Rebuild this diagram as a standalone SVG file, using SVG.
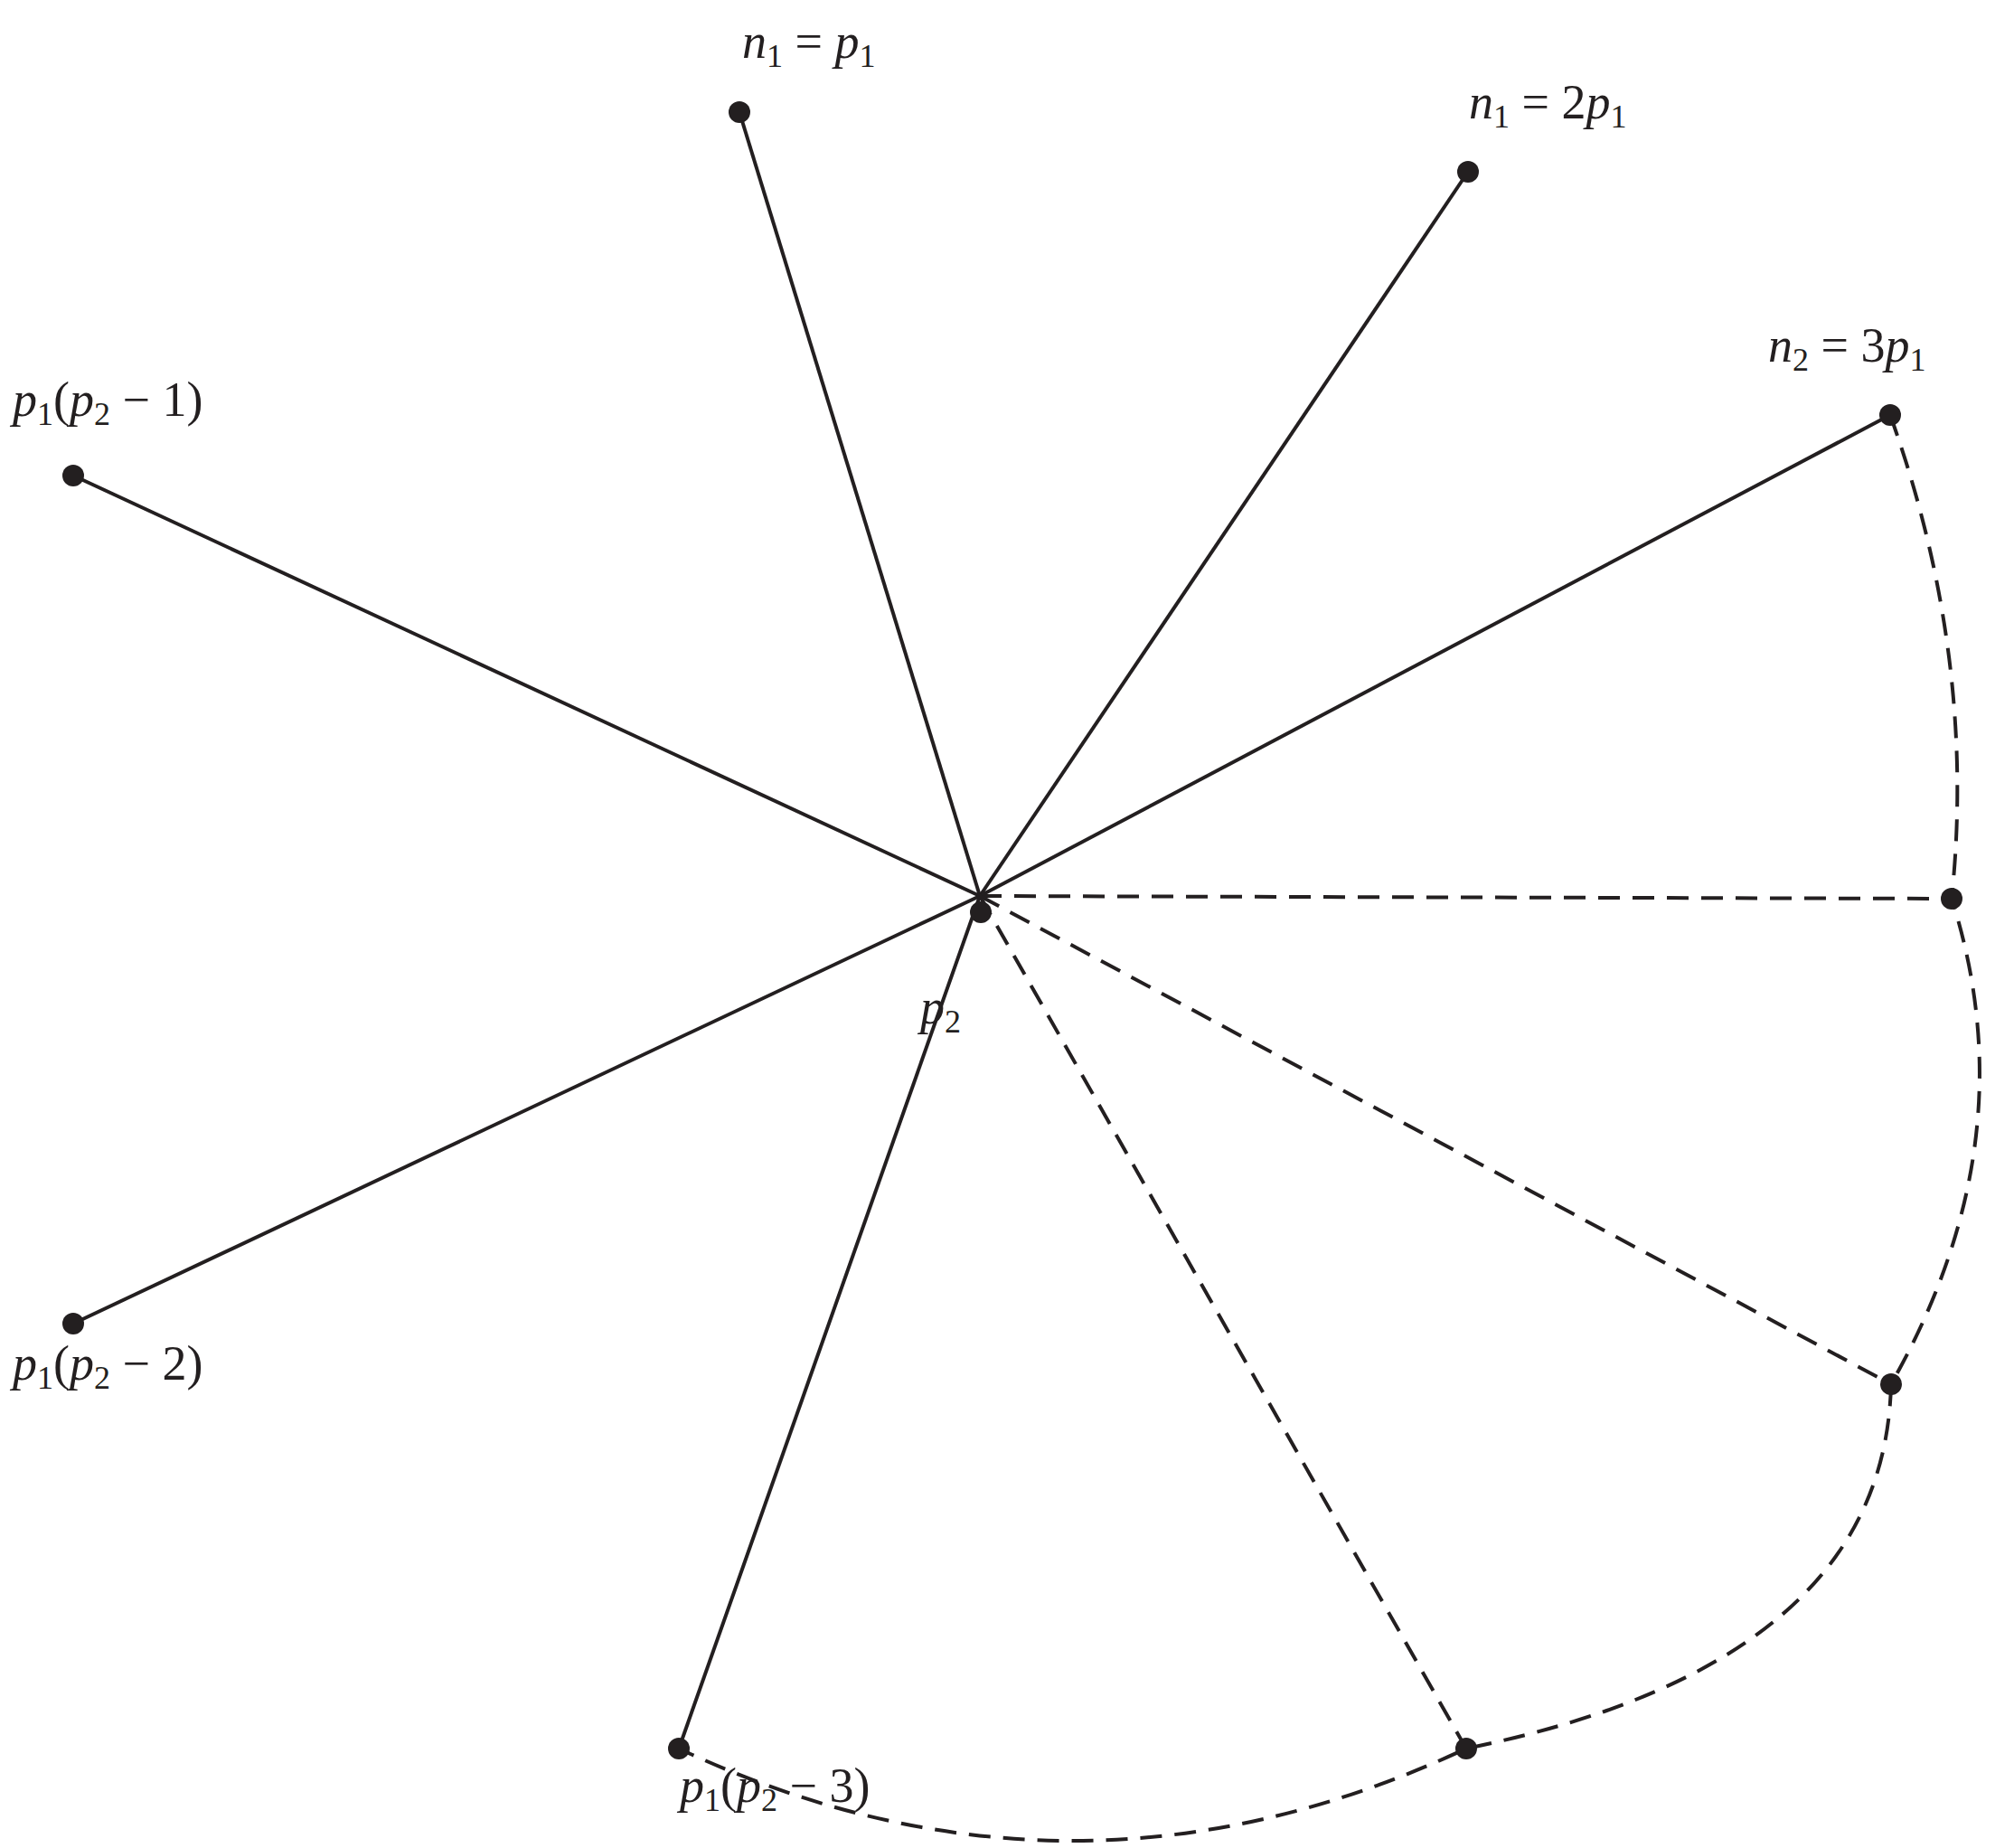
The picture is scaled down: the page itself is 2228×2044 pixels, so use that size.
<svg xmlns="http://www.w3.org/2000/svg" width="2228" height="2044" viewBox="0 0 2228 2044">
<style>
.s{stroke:#231f20;stroke-width:4;fill:none}
.d{stroke:#231f20;stroke-width:4;fill:none;stroke-dasharray:24 14}
.n{fill:#231f20}
text{font-family:"Liberation Serif",serif;font-size:54px;fill:#231f20}
.i{font-style:italic}
.b{font-size:36px}
</style>
<rect width="2228" height="2044" fill="#fff"/>
<g id="connectors">
<line class="s" x1="1084" y1="991" x2="818" y2="124"/>
<line class="s" x1="1084" y1="991" x2="1624" y2="190"/>
<line class="s" x1="1084" y1="991" x2="2091" y2="459"/>
<line class="s" x1="1084" y1="991" x2="81" y2="526"/>
<line class="s" x1="1084" y1="991" x2="81" y2="1464"/>
<line class="s" x1="1084" y1="991" x2="751" y2="1934"/>
<line class="d" x1="1084" y1="991" x2="2159" y2="994"/>
<line class="d" x1="1084" y1="991" x2="2092" y2="1531"/>
<line class="d" x1="1084" y1="991" x2="1622" y2="1934"/>
<path class="d" d="M2091,459 Q2187,726 2159,994 Q2245,1262 2092,1531 Q2085,1840 1622,1934 Q1186,2138 751,1934"/>
</g>
<g id="center"><circle class="n" cx="1085" cy="1009" r="12"/><text x="1018" y="1132" class="i">p<tspan class="b" dy="10" font-style="normal">2</tspan></text></g>
<g id="n1"><circle class="n" cx="818" cy="124" r="12"/><text x="821" y="64"><tspan class="i">n</tspan><tspan class="b" dy="10">1</tspan><tspan dy="-10"> = </tspan><tspan class="i">p</tspan><tspan class="b" dy="10">1</tspan></text></g>
<g id="n2"><circle class="n" cx="1624" cy="190" r="12"/><text x="1625" y="131"><tspan class="i">n</tspan><tspan class="b" dy="10">1</tspan><tspan dy="-10"> = 2</tspan><tspan class="i">p</tspan><tspan class="b" dy="10">1</tspan></text></g>
<g id="n3"><circle class="n" cx="2091" cy="459" r="12"/><text x="1956" y="400"><tspan class="i">n</tspan><tspan class="b" dy="10">2</tspan><tspan dy="-10"> = 3</tspan><tspan class="i">p</tspan><tspan class="b" dy="10">1</tspan></text></g>
<g id="m1"><circle class="n" cx="81" cy="526" r="12"/><text x="14" y="460"><tspan class="i">p</tspan><tspan class="b" dy="10">1</tspan><tspan dy="-10">(</tspan><tspan class="i">p</tspan><tspan class="b" dy="10">2</tspan><tspan dy="-10"> − 1)</tspan></text></g>
<g id="m2"><circle class="n" cx="81" cy="1464" r="12"/><text x="14" y="1526"><tspan class="i">p</tspan><tspan class="b" dy="10">1</tspan><tspan dy="-10">(</tspan><tspan class="i">p</tspan><tspan class="b" dy="10">2</tspan><tspan dy="-10"> − 2)</tspan></text></g>
<g id="m3"><circle class="n" cx="751" cy="1934" r="12"/><text x="752" y="1993"><tspan class="i">p</tspan><tspan class="b" dy="10">1</tspan><tspan dy="-10">(</tspan><tspan class="i">p</tspan><tspan class="b" dy="10">2</tspan><tspan dy="-10"> − 3)</tspan></text></g>
<g id="r1"><circle class="n" cx="2159" cy="994" r="12"/></g>
<g id="r2"><circle class="n" cx="2092" cy="1531" r="12"/></g>
<g id="r3"><circle class="n" cx="1622" cy="1934" r="12"/></g>
</svg>
